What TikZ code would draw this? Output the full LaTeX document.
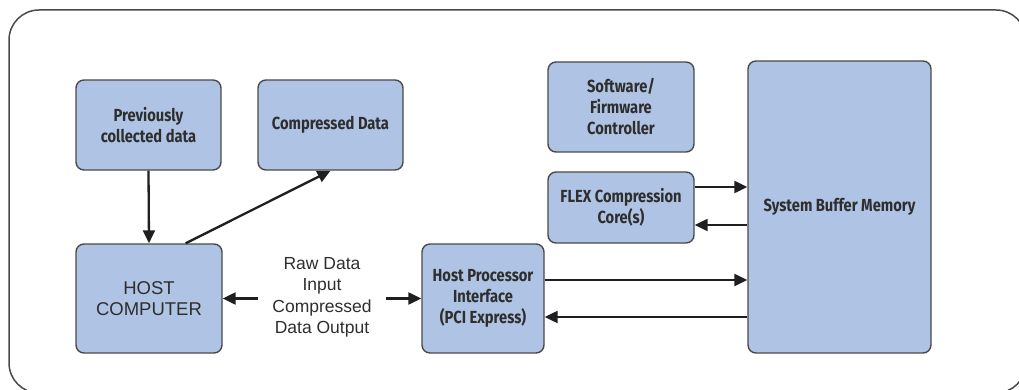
\documentclass[tikz,border=0pt]{standalone}
\usepackage{fontspec}
\setmainfont{Liberation Sans}
\newfontfamily\boxfont[FakeStretch=0.84]{Fira Sans}
\usetikzlibrary{arrows.meta,calc}
\definecolor{boxfill}{HTML}{AFC4E4}
\definecolor{boxline}{HTML}{4A4A4A}
\definecolor{inkgray}{HTML}{2E2E2E}
\tikzset{
  blockbox/.style={draw=boxline, line width=1.4pt, fill=boxfill, rounded corners=8pt,
    align=center, text=inkgray, font=\boxfont\bfseries\fontsize{17.5}{21}\selectfont,
    inner sep=0pt},
  plainbox/.style={blockbox, font=\fontsize{18.5}{21}\selectfont},
  arr/.style={draw=black!88, line width=2.3pt, -{Triangle[length=13pt,width=12pt]}},
}
\begin{document}
\begin{tikzpicture}[x=1pt,y=-1pt]
\useasboundingbox (0,0) rectangle (1019,390);
% outer frame
\begin{scope}
\clip (0,0) rectangle (1019,390);
\draw[boxline, line width=1.5pt, rounded corners=30pt] (9,10) rectangle (1026,393);
\end{scope}
% blocks
\node[blockbox, minimum width=145pt, minimum height=90pt] (prev) at (148.5,125) {Previously\\collected data};
\node[blockbox, minimum width=145pt, minimum height=90pt] (comp) at (330.5,125) {Compressed Data};
\node[plainbox, minimum width=146pt, minimum height=109pt] (host) at (149,298.5) {HOST\\COMPUTER};
\node[blockbox, minimum width=122pt, minimum height=109pt] (hpi) at (483,298.5) {Host Processor\\Interface\\(PCI Express)};
\node[blockbox, minimum width=146pt, minimum height=90pt] (sw) at (621,107) {Software/\\Firmware\\Controller};
\node[blockbox, minimum width=146pt, minimum height=71pt] (flex) at (621,207.5) {FLEX Compression\\Core(s)};
\node[blockbox, minimum width=183pt, minimum height=292pt] (sbm) at (839.5,207) {System Buffer Memory};
% label between host and interface
\node[align=center, text=inkgray, font=\fontsize{17.5}{21.5}\selectfont, inner xsep=14pt, inner ysep=0pt] (mid) at (322,297.5)
  {Raw Data\\Input\\Compressed\\Data Output};
% connectors
\draw[arr] (prev.south) -- (host.north);
\draw[arr] ([xshift=-37pt]host.north east) -- (comp.south);
\draw[arr] (mid.west |- host.east) -- (host.east);
\draw[arr] (mid.east |- hpi.west) -- (hpi.west);
\draw[arr] ([yshift=20.5pt]flex.east) -- ([yshift=20.5pt]flex.east -| sbm.west);
\draw[arr] ([yshift=-17.5pt]flex.east -| sbm.west) -- ([yshift=-17.5pt]flex.east);
\draw[arr] ([yshift=18.5pt]hpi.east) -- ([yshift=18.5pt]hpi.east -| sbm.west);
\draw[arr] ([yshift=-18.5pt]hpi.east -| sbm.west) -- ([yshift=-18.5pt]hpi.east);
\end{tikzpicture}
\end{document}
